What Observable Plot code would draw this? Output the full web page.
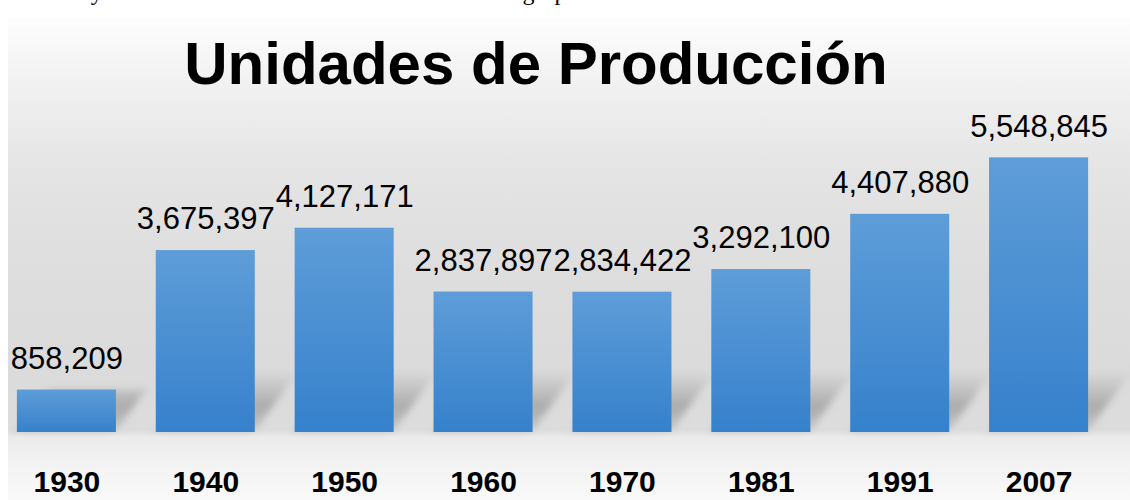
<!DOCTYPE html>
<html>
<head>
<meta charset="utf-8">
<script src="https://cdn.jsdelivr.net/npm/d3@7"></script>
<script src="https://cdn.jsdelivr.net/npm/@observablehq/plot@0.6"></script>
<style>
  html, body { margin: 0; padding: 0; background: #ffffff; }
  body { position: relative; width: 1130px; height: 500px; overflow: hidden; font-family: Arial, "Liberation Sans", sans-serif; }
  #topline { position: absolute; left: 0; top: 0; width: 1130px; height: 8px; overflow: hidden; }
  #topline span { position: absolute; left: 62px; top: -20px; font-family: "Liberation Serif", "Times New Roman", serif; font-size: 24px; line-height: 24px; white-space: nowrap; color: #000; word-spacing: 4px; }
  #panel { position: absolute; left: 8px; top: 18px; width: 1122px; height: 482px;
    background: linear-gradient(to bottom, #fdfdfd 0%, #f1f1f1 14%, #e4e4e4 32%, #dddddd 55%, #dbdbdb 72%, #dcdcdc 85.5%, #ececec 87%, #f3f3f3 93%, #f9f9f9 100%); }
  #title { position: absolute; left: 0; top: 34px; width: 1072px; text-align: center; font-family: Arial, "Liberation Sans", sans-serif; font-weight: bold; font-size: 60px; line-height: 60px; color: #000; white-space: nowrap; }
  #chart { position: absolute; left: 0; top: 100px; }
</style>
</head>
<body>
<div id="topline"><span>ra y el resto de unidades en las actividades agropecuarias</span></div>
<div id="panel"></div>
<div id="title">Unidades de Producción</div>
<div id="chart"></div>
<script>
const years = ["1930", "1940", "1950", "1960", "1970", "1981", "1991", "2007"];
const units = [858209, 3675397, 4127171, 2837897, 2834422, 3292100, 4407880, 5548845];

const data = years.map((y, i) => ({year: y, units: units[i]}));
const fmt = d3.format(",");

const chart = Plot.plot({
  width: 1130,
  height: 400,
  marginLeft: 3,
  marginRight: 28,
  marginTop: 35,
  marginBottom: 68,
  style: {background: "transparent", color: "#000", fontFamily: "Arial, 'Liberation Sans', sans-serif", overflow: "visible"},
  x: {domain: years, paddingInner: 0.287, paddingOuter: 0.1, round: false, label: null},
  y: {domain: [0, 6000000], axis: null},
  marks: [
    Plot.barY(data, {x: "year", y: "units", fill: "url(#shadowGrad)"}),
    Plot.barY(data, {x: "year", y: "units", fill: "url(#barGrad)"}),
    Plot.text(data, {x: "year", y: "units", text: d => fmt(d.units), fontSize: 31, lineAnchor: "middle", dy: -31, fill: "#000"}),
    Plot.axisX({tickSize: 0, tickPadding: 38, fontSize: 30, fontWeight: "bold", label: null, fill: "#000"})
  ]
});

const svg = d3.select(chart);
svg.insert("defs", ":first-child").html(`
  <linearGradient id="barGrad" x1="0" y1="0" x2="0" y2="1">
    <stop offset="0%" stop-color="#5e9dd8"/>
    <stop offset="100%" stop-color="#3681cc"/>
  </linearGradient>
  <linearGradient id="shadowGrad" gradientUnits="userSpaceOnUse" x1="0" y1="270" x2="0" y2="332">
    <stop offset="0%" stop-color="#8c8c8c" stop-opacity="0"/>
    <stop offset="60%" stop-color="#8c8c8c" stop-opacity="0.6"/>
    <stop offset="100%" stop-color="#8c8c8c" stop-opacity="0.25"/>
  </linearGradient>
  <filter id="blurShadow" x="-30%" y="-30%" width="160%" height="160%">
    <feGaussianBlur stdDeviation="4"/>
  </filter>
`);
// shadow cast diagonally up-right from each bar's base
const t = 0.7;
svg.select('g[aria-label="bar"]')
  .attr("transform", `translate(${332 * t},0) skewX(${-Math.atan(t) * 180 / Math.PI})`)
  .attr("filter", "url(#blurShadow)");

document.getElementById("chart").appendChild(chart);
</script>
</body>
</html>
